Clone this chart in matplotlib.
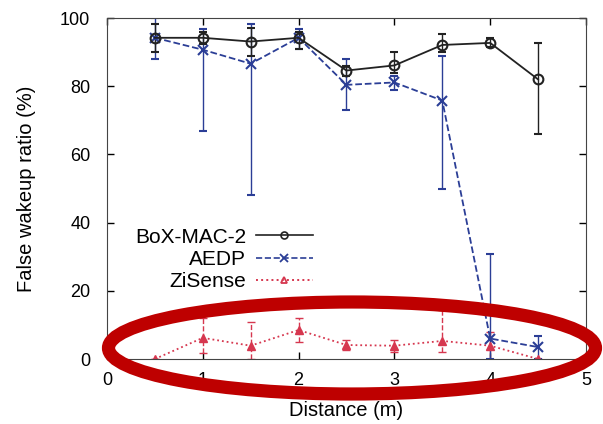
import numpy as np
import matplotlib
matplotlib.use("Agg")
import matplotlib.pyplot as plt
from matplotlib.patches import Ellipse
from matplotlib.lines import Line2D

plt.rcParams['font.family'] = ['Liberation Sans', 'DejaVu Sans']

dist = [0.5, 1.0, 1.5, 2.0, 2.5, 3.0, 3.5, 4.0, 4.5]

box_mac = [94.2, 94.2, 93.1, 94.2, 84.6, 86.1, 92.1, 92.7, 82.0]
box_lo = [89.9, 92.5, 88.8, 91.0, 83.0, 84.0, 90.0, 91.5, 66.0]
box_hi = [98.1, 96.0, 97.1, 96.0, 86.0, 89.9, 95.2, 94.0, 92.7]

aedp = [94.2, 90.7, 86.6, 94.2, 80.4, 81.1, 75.8, 6.0, 3.5]
aedp_lo = [88.0, 66.9, 48.2, 91.0, 73.1, 78.8, 49.9, 0.0, 0.0]
aedp_hi = [100.0, 96.9, 98.1, 96.9, 88.0, 83.0, 88.8, 30.7, 6.8]

zisense = [0.0, 6.2, 3.9, 8.5, 4.1, 3.9, 5.3, 3.9, 0.0]
zi_lo = [0.0, 1.8, 0.0, 4.9, 2.5, 2.0, 2.1, 0.0, 0.0]
zi_hi = [0.0, 12.1, 10.9, 11.9, 5.6, 5.6, 14.5, 7.9, 0.0]

c_box = '#222222'
c_aedp = '#2B3E96'
c_zi = '#D6374F'


def yerr(v, lo, hi):
    v = np.array(v)
    return [v - np.array(lo), np.array(hi) - v]


fig = plt.figure(figsize=(6.03, 4.24), dpi=100)
ax = fig.add_axes([0.1774, 0.1533, 0.7944, 0.8042])

e = ax.errorbar(dist, zisense, yerr=yerr(zisense, zi_lo, zi_hi), color=c_zi,
                ls=':', lw=1.3, marker='^', ms=6, capsize=3, elinewidth=1)
e[2][0].set_linestyle('--')
ax.errorbar(dist, aedp, yerr=yerr(aedp, aedp_lo, aedp_hi), color=c_aedp,
            ls='--', lw=1.3, marker='x', ms=7, mew=1.5, capsize=3, elinewidth=1)
ax.errorbar(dist, box_mac, yerr=yerr(box_mac, box_lo, box_hi), color=c_box,
            ls='-', lw=1.3, marker='o', ms=7, mfc='none', mew=1.5, capsize=3,
            elinewidth=1)

ax.set_xlim(0, 5)
ax.set_ylim(0, 100)
ax.set_xticks(range(6))
ax.set_yticks(range(0, 101, 20))
ax.tick_params(direction='in', top=True, right=True, labelsize=13, length=5,
               width=1)
ax.tick_params(axis='y', pad=12)
ax.tick_params(axis='x', pad=9)
for s in ax.spines.values():
    s.set_color('#444444')
ax.set_xlabel('Distance (m)', fontsize=14.5, labelpad=9)
ax.set_ylabel('False wakeup ratio (%)', fontsize=14.5, labelpad=17)

handles = [
    Line2D([], [], color=c_box, ls='-', lw=1.2, marker='o', ms=5, mfc='none', mew=1.2),
    Line2D([], [], color=c_aedp, ls='--', lw=1.2, marker='x', ms=6, mew=1.3),
    Line2D([], [], color=c_zi, ls=':', lw=1.4, marker='^', ms=5, mfc='none', mew=1.3),
]
ax.legend(handles, ['BoX-MAC-2', 'AEDP', 'ZiSense'], loc='upper left',
          bbox_to_anchor=(0.058, 0.385), frameon=False, markerfirst=False,
          fontsize=15, handlelength=2.7, handletextpad=0.5,
          labelspacing=0.15, borderaxespad=0, borderpad=0)

ell = Ellipse((352 / 603, 1 - 348 / 424), 487 / 603, 92 / 424,
              transform=fig.transFigure, fill=False, ec='#BE0000', lw=9.5,
              zorder=10)
fig.add_artist(ell)

fig.savefig('out.png', dpi=100)
